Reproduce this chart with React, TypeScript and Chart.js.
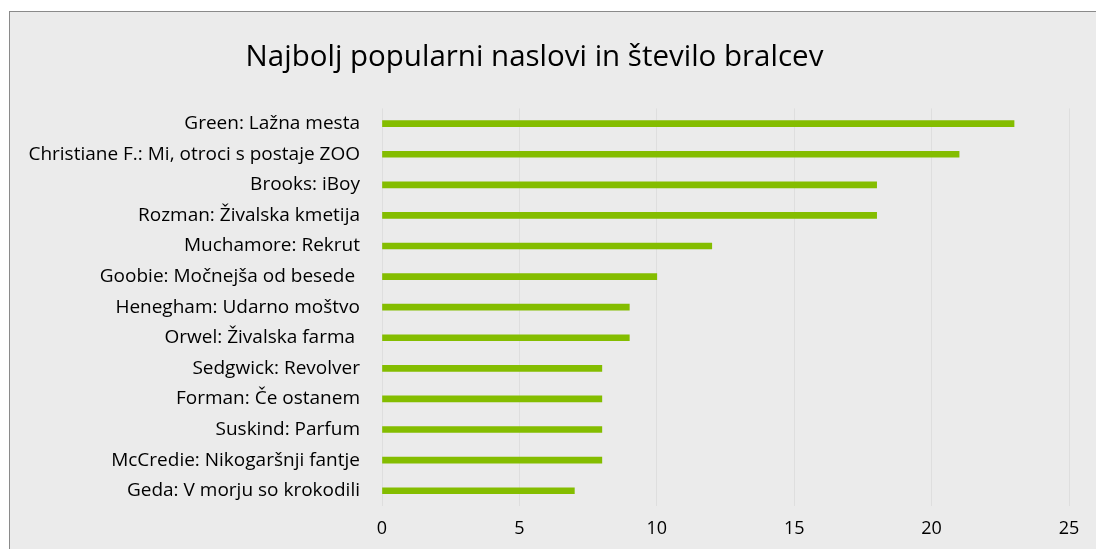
import React, { useEffect, useRef } from "react";
import { Chart, registerables } from "chart.js";

Chart.register(...registerables);

const titles: string[] = [
  "Green: Lažna mesta",
  "Christiane F.: Mi, otroci s postaje ZOO",
  "Brooks: iBoy",
  "Rozman: Živalska kmetija",
  "Muchamore: Rekrut",
  "Goobie: Močnejša od besede ",
  "Henegham: Udarno moštvo",
  "Orwel: Živalska farma ",
  "Sedgwick: Revolver",
  "Forman: Če ostanem",
  "Suskind: Parfum",
  "McCredie: Nikogaršnji fantje",
  "Geda: V morju so krokodili",
];
const readers: number[] = [23, 21, 18, 18, 12, 10, 9, 9, 8, 8, 8, 8, 7];
const chartTitle = "Najbolj popularni naslovi in število bralcev";

export default function App() {
  const ref = useRef<HTMLCanvasElement | null>(null);
  useEffect(() => {
    document.body.style.margin = "0";
    const ctx = ref.current!;
    const chart = new Chart(ctx, {
      type: "bar",
      data: {
        labels: titles,
        datasets: [
          {
            data: readers,
            backgroundColor: "#84bd00",
            barThickness: 6,
          },
        ],
      },
      options: {
        indexAxis: "y",
        animation: false,
        responsive: false,
        maintainAspectRatio: false,
        layout: { padding: { left: 0, right: 27, top: 0, bottom: 0 } },
        plugins: {
          legend: { display: false },
          tooltip: { enabled: false },
          title: {
            display: true,
            text: chartTitle,
            color: "#000",
            font: { family: "Open Sans", size: 29.5, weight: "normal" },
            padding: { top: 40, bottom: 33 },
          },
        },
        scales: {
          x: {
            min: 0,
            max: 25,
            ticks: {
              stepSize: 5,
              color: "#000",
              font: { family: "Open Sans", size: 18 },
              padding: 12,
              maxRotation: 0,
            },
            grid: { color: "#dedede", drawTicks: false, lineWidth: 1 },
            border: { display: false },
            afterFit: (s: any) => {
              s.height = 43;
            },
          },
          y: {
            ticks: {
              color: "#000",
              font: { family: "Open Sans", size: 19 },
              padding: 22,
              autoSkip: false,
            },
            grid: { display: false, drawTicks: false },
            border: { display: false },
            afterFit: (s: any) => {
              s.width = 382;
            },
          },
        },
      },
    });
    return () => chart.destroy();
  }, []);

  return (
    <div
      style={{
        position: "absolute",
        left: 0,
        top: 0,
        width: 1096,
        height: 549,
        overflow: "hidden",
        background: "#fff",
      }}
    >
      <div
        style={{
          position: "absolute",
          left: 9,
          top: 11,
          width: 1100,
          height: 560,
          border: "1px solid #8a8a8a",
          background: "#ebebeb",
        }}
      />
      <canvas
        ref={ref}
        width={1096}
        height={549}
        style={{ position: "absolute", left: 0, top: 0, width: 1096, height: 549 }}
      />
    </div>
  );
}
